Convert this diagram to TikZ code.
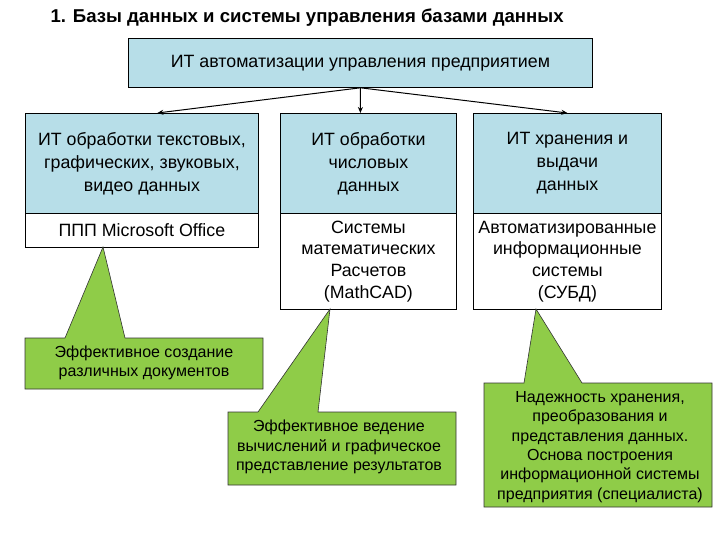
\documentclass[tikz,border=0pt]{standalone}
\usepackage{fontspec}
\setmainfont{Liberation Sans}
\usetikzlibrary{arrows.meta}
\definecolor{boxblue}{RGB}{183,222,232}
\definecolor{callgreen}{RGB}{143,204,72}
\tikzset{
  box/.style={draw=black, line width=0.8bp, anchor=north west, inner sep=0pt, align=center,
    font=\fontsize{17.8bp}{23bp}\selectfont},
  bluebox/.style={box, fill=boxblue},
  whitebox/.style={box, fill=white, font=\fontsize{17.8bp}{21.7bp}\selectfont},
  calltext/.style={inner sep=0pt, align=center, font=\fontsize{16bp}{19.4bp}\selectfont},
  callshape/.style={fill=callgreen, draw=black!80, line width=0.6bp, line join=miter},
  arr/.style={draw=black, line width=1bp, -{Stealth[length=6bp,width=5bp]}}
}
\begin{document}
\begin{tikzpicture}[x=1bp,y=-1bp]
\useasboundingbox (0,0) rectangle (720,540);
% title
\node[font=\bfseries\fontsize{18.6bp}{20bp}\selectfont, anchor=west] (title) at (47,18) {1. Базы данных и системы управления базами данных};
% top box
\node[bluebox, minimum width=464bp, minimum height=49bp] (top) at (128,38) {ИТ автоматизации управления предприятием};
% columns
\node[bluebox, minimum width=233bp, minimum height=100bp] (b1) at (25,113) {ИТ обработки текстовых,\\графических, звуковых,\\видео данных};
\node[whitebox, minimum width=233bp, minimum height=34bp] (w1) at (25,213) {ППП Microsoft Office};
\node[bluebox, minimum width=176bp, minimum height=100bp] (b2) at (280,113) {ИТ обработки\\числовых\\данных};
\node[whitebox, minimum width=176bp, minimum height=96bp] (w2) at (280,213) {Системы\\математических\\Расчетов\\(MathCAD)};
\node[bluebox, minimum width=188bp, minimum height=100bp] (b3) at (473,113) {ИТ хранения и\\выдачи\\данных};
\node[whitebox, minimum width=188bp, minimum height=96bp] (w3) at (473,213) {Автоматизированные\\информационные\\системы\\(СУБД)};
% arrows
\draw[arr] (top.south) -- ([xshift=15.5bp]b1.north);
\draw[arr] (top.south) -- ([xshift=-8bp]b2.north);
\draw[arr] (top.south) -- (b3.north);
% callouts
\draw[callshape] (25,338) -- (65,338) -- (103,247) -- (125,338) -- (263,338) -- (263,389) -- (25,389) -- cycle;
\node[calltext] (c1) at (144,363) {Эффективное создание\\различных документов};
\draw[callshape] (228,412) -- (258,412) -- (330,309) -- (318,412) -- (456,412) -- (456,485) -- (228,485) -- cycle;
\node[calltext] (c2) at (339,447) {Эффективное ведение\\вычислений и графическое\\представление результатов};
\draw[callshape] (484,383) -- (524,383) -- (536,309) -- (582,383) -- (712,383) -- (712,507) -- (484,507) -- cycle;
\node[calltext] (c3) at (600,447) {Надежность хранения,\\преобразования и\\представления данных.\\Основа построения\\информационной системы\\предприятия (специалиста)};
\end{tikzpicture}
\end{document}
